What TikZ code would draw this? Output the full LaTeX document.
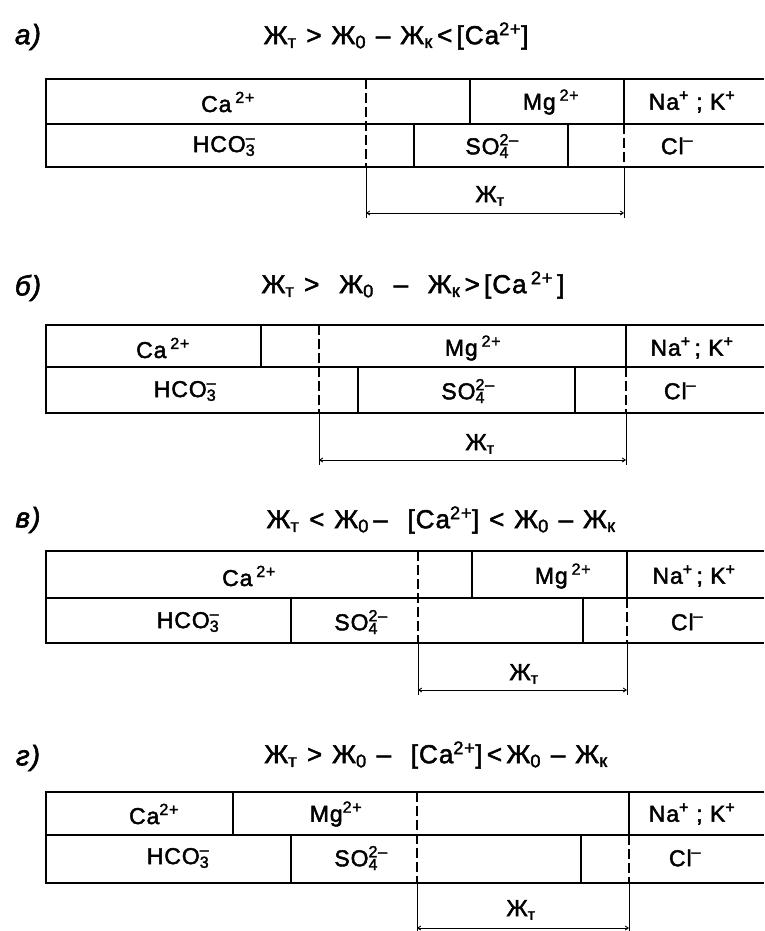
\documentclass[tikz,border=0pt]{standalone}
\usepackage{fontspec}
\setmainfont{Liberation Sans}[FakeBold=2, LetterSpace=4]
\usetikzlibrary{arrows.meta}
\newcommand\subsup[2]{\rlap{\textsubscript{#1}}\textsuperscript{#2}}
\newcommand\Zh[1]{Ж\textsubscript{#1}}
\newcommand\gapsp{\hspace{0.38em}}
\tikzset{
  frame/.style={line width=2.2pt},
  divider/.style={line width=1.8pt},
  dashdiv/.style={line width=1.6pt, dash pattern=on 10pt off 4pt},
  dimline/.style={line width=0.9pt},
  dimarrow/.style={line width=0.9pt, {Straight Barb[length=3pt,width=4pt]}-{Straight Barb[length=3pt,width=4pt]}},
  lbl/.style={font=\fontsize{23}{28}\selectfont, inner sep=0pt},
  ttl/.style={font=\fontsize{26}{30}\selectfont, inner sep=0pt},
  tag/.style={font=\fontsize{28}{30}\selectfont\itshape, inner sep=0pt}
}
\begin{document}
\begin{tikzpicture}[x=1pt,y=-1pt]
\useasboundingbox (0,0) rectangle (764,931);
\fill[white] (0,0) rectangle (764,931);

% ---------------- panel a ----------------
\node[tag] (a-tag) at (28,37) {а)};
\node[ttl] (a-ttl) at (396,36) {\Zh{т}\gapsp>\gapsp\Zh{0}\gapsp–\gapsp\Zh{к}\,<\,[Ca\textsuperscript{2+}]};
\draw[frame] (764,79) -- (46,79) -- (46,167) -- (764,167);
\draw[divider] (46,124) -- (764,124);
\draw[dashdiv] (366,79) -- (366,167);
\draw[divider] (470,79) -- (470,124);
\draw[divider] (624,79) -- (624,124);
\draw[divider] (414,124) -- (414,167);
\draw[divider] (568,124) -- (568,167);
\draw[dashdiv] (624,124) -- (624,167);
\node[lbl] (a-ca) at (228,102) {Ca\,\textsuperscript{2+}};
\node[lbl] (a-mg) at (551,102) {Mg\,\textsuperscript{2+}};
\node[lbl] (a-na) at (692,102) {Na\textsuperscript{+}\ ;\ K\textsuperscript{+}};
\node[lbl] (a-hco) at (224,146) {HCO\subsup{3}{–}};
\node[lbl] (a-so) at (492,146) {SO\subsup{4}{2–}};
\node[lbl] (a-cl) at (677,146) {Cl\textsuperscript{–}};
\coordinate (a-l0) at (366,167); \coordinate (a-l1) at (366,218);
\coordinate (a-r0) at (624,167); \coordinate (a-r1) at (624,218);
\coordinate (a-bl) at (366,213); \coordinate (a-br) at (624,213);
\draw[dimline] (a-l0) -- (a-l1);
\draw[dimline] (a-r0) -- (a-r1);
\draw[dimarrow] (a-bl) -- (a-br);
\node[lbl] (a-zt) at (490,196) {\Zh{т}};

% ---------------- panel b ----------------
\node[tag] (b-tag) at (28,288) {б)};
\node[ttl] (b-ttl) at (413,285) {\Zh{т}\gapsp>\gapsp\gapsp\Zh{0}\gapsp\gapsp–\gapsp\gapsp\Zh{к}\,>\,[Ca\,\textsuperscript{2+}\,]};
\draw[frame] (764,325) -- (46,325) -- (46,413) -- (764,413);
\draw[divider] (46,367) -- (764,367);
\draw[divider] (261,325) -- (261,367);
\draw[dashdiv] (319,325) -- (319,413);
\draw[divider] (626,325) -- (626,367);
\draw[divider] (358,367) -- (358,413);
\draw[divider] (575,367) -- (575,413);
\draw[dashdiv] (626,367) -- (626,413);
\node[lbl] (b-ca) at (163,348) {Ca\,\textsuperscript{2+}};
\node[lbl] (b-mg) at (473,348) {Mg\,\textsuperscript{2+}};
\node[lbl] (b-na) at (692,348) {Na\textsuperscript{+}\,;\ K\textsuperscript{+}};
\node[lbl] (b-hco) at (185,391) {HCO\subsup{3}{–}};
\node[lbl] (b-so) at (468,391) {SO\subsup{4}{2–}};
\node[lbl] (b-cl) at (680,391) {Cl\textsuperscript{–}};
\coordinate (b-l0) at (319,413); \coordinate (b-l1) at (319,465);
\coordinate (b-r0) at (626,413); \coordinate (b-r1) at (626,465);
\coordinate (b-bl) at (319,460); \coordinate (b-br) at (626,460);
\draw[dimline] (b-l0) -- (b-l1);
\draw[dimline] (b-r0) -- (b-r1);
\draw[dimarrow] (b-bl) -- (b-br);
\node[lbl] (b-zt) at (480,444) {\Zh{т}};

% ---------------- panel v ----------------
\node[tag] (v-tag) at (28,520) {в)};
\node[ttl] (v-ttl) at (441,520) {\Zh{т}\gapsp<\gapsp\Zh{0}\,–\gapsp\gapsp[Ca\textsuperscript{2+}]\gapsp<\gapsp\Zh{0}\gapsp–\gapsp\Zh{к}};
\draw[frame] (764,551) -- (46,551) -- (46,643) -- (764,643);
\draw[divider] (46,598) -- (764,598);
\draw[dashdiv] (418,551) -- (418,643);
\draw[divider] (472,551) -- (472,598);
\draw[divider] (627,551) -- (627,598);
\draw[divider] (291,598) -- (291,643);
\draw[divider] (583,598) -- (583,643);
\draw[dashdiv] (627,598) -- (627,643);
\node[lbl] (v-ca) at (249,576) {Ca\,\textsuperscript{2+}};
\node[lbl] (v-mg) at (563,576) {Mg\,\textsuperscript{2+}};
\node[lbl] (v-na) at (694,576) {Na\textsuperscript{+}\,;\ K\textsuperscript{+}};
\node[lbl] (v-hco) at (188,622) {HCO\subsup{3}{–}};
\node[lbl] (v-so) at (361,622) {SO\subsup{4}{2–}};
\node[lbl] (v-cl) at (687,622) {Cl\textsuperscript{–}};
\coordinate (v-l0) at (418,643); \coordinate (v-l1) at (418,695);
\coordinate (v-r0) at (627,643); \coordinate (v-r1) at (627,695);
\coordinate (v-bl) at (418,690); \coordinate (v-br) at (627,690);
\draw[dimline] (v-l0) -- (v-l1);
\draw[dimline] (v-r0) -- (v-r1);
\draw[dimarrow] (v-bl) -- (v-br);
\node[lbl] (v-zt) at (524,674) {\Zh{т}};

% ---------------- panel g ----------------
\node[tag] (g-tag) at (28,758) {г)};
\node[ttl] (g-ttl) at (436,755) {\Zh{т}\gapsp>\gapsp\Zh{0}\gapsp–\gapsp\gapsp[Ca\textsuperscript{2+}]\,<\,\Zh{0}\gapsp–\gapsp\Zh{к}};
\draw[frame] (764,792) -- (46,792) -- (46,883) -- (764,883);
\draw[divider] (46,835) -- (764,835);
\draw[divider] (233,792) -- (233,835);
\draw[dashdiv] (417,792) -- (417,883);
\draw[divider] (629,792) -- (629,835);
\draw[divider] (291,835) -- (291,883);
\draw[divider] (581,835) -- (581,883);
\draw[dashdiv] (629,835) -- (629,883);
\node[lbl] (g-ca) at (154,814) {Ca\textsuperscript{2+}};
\node[lbl] (g-mg) at (336,814) {Mg\textsuperscript{2+}};
\node[lbl] (g-na) at (692,814) {Na\textsuperscript{+}\ ;\ K\textsuperscript{+}};
\node[lbl] (g-hco) at (178,858) {HCO\subsup{3}{–}};
\node[lbl] (g-so) at (361,858) {SO\subsup{4}{2–}};
\node[lbl] (g-cl) at (685,858) {Cl\textsuperscript{–}};
\coordinate (g-l0) at (417,883); \coordinate (g-l1) at (417,931);
\coordinate (g-r0) at (629,883); \coordinate (g-r1) at (629,931);
\coordinate (g-bl) at (417,928); \coordinate (g-br) at (629,928);
\draw[dimline] (g-l0) -- (g-l1);
\draw[dimline] (g-r0) -- (g-r1);
\draw[dimarrow] (g-bl) -- (g-br);
\node[lbl] (g-zt) at (521,910) {\Zh{т}};
\end{tikzpicture}
\end{document}
